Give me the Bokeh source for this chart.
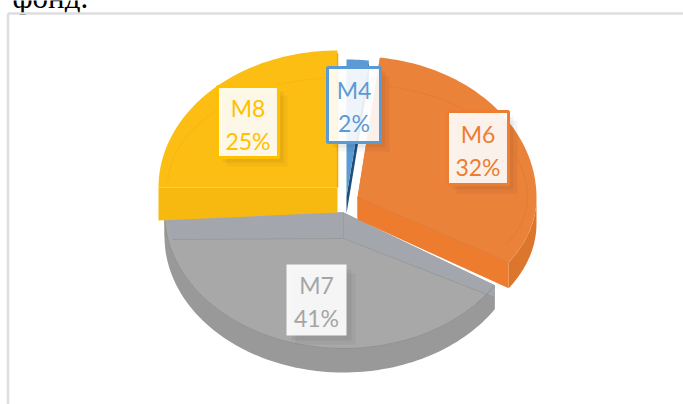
import numpy as np
from bokeh.plotting import figure
from bokeh.core.properties import value
from bokeh.embed import file_html
from bokeh.resources import INLINE

# ---- data
names = ["M4", "M6", "M7", "M8"]
shares = [2, 32, 41, 25]
label_texts = ["M4\n2%", "M6\n32%", "M7\n41%", "M8\n25%"]

# ---- style / layout (page pixels)
face_colors = ["#5B9BD5", "#EA823A", "#A8A8A8", "#FDBE14"]
cut_colors = ["#1F4E79", "#EE7C2E", "#999999", "#F7B90F"]
wall_colors = ["#1F4E79", "#DC762D", "#999999", "#F7B90F"]
bevel_colors = ["#4A86BD", "#D9732C", "#949494", "#EDA90C"]
label_colors = ["#5B9BD5", "#ED7D31", "#A5A5A5", "#FFC000"]
centres = {"M4": (346, 196), "M6": (357, 197), "M7": (343, 212), "M8": (337, 187)}
# depth of the slice at its apex and at its rim
depths = {"M4": (17, 17), "M6": (22, 26), "M7": (28, 24), "M8": (25, 33)}
RX = 179
ry_back = {"M4": 137, "M6": 141, "M7": 137, "M8": 137}
ry_front = {"M4": 137, "M6": 121, "M7": 136, "M8": 137}
boxes = {"M4": (327, 380, 67, 142), "M6": (447, 508, 111, 184),
         "M7": (286, 346, 264, 335), "M8": (217, 278, 86, 157)}
LINE_Y = {"M4": (89, 122), "M6": (133, 166), "M7": (284, 317), "M8": (107, 140)}

p = figure(width=683, height=404, output_backend="svg", toolbar_location=None,
           x_range=(0, 683), y_range=(404, 0), min_border=0,
           outline_line_color=None, margin=(0, 0, 0, 0))
p.axis.visible = False
p.grid.visible = False


def arc(name, a0, a1, kx=1.0, ky=1.0, n=90):
    cx, cy = centres[name]
    t = np.radians(np.linspace(a0, a1, n))
    c = np.cos(t)
    ry = np.where(c > 0, ry_back[name], ry_front[name])
    return cx + kx * RX * np.sin(t), cy - ky * ry * c


# page furniture
p.text([12], [-3], text=["фонд."], text_font=value("Liberation Serif"),
       text_font_size="31px", text_color="#000000", text_baseline="alphabetic")
p.segment([7.5, 7.5], [13, 13], [683, 7.5], [13, 404], line_color="#DEDEDE", line_width=2.5)

# angular spans derived from the shares
total = sum(shares)
edges = np.cumsum([0] + shares) / total * 360
spans = {n: (edges[i], edges[i + 1]) for i, n in enumerate(names)}

for n in ["M7", "M4", "M8", "M6"]:
    i = names.index(n)
    a0, a1 = spans[n]
    cx, cy = centres[n]
    d_in, d_out = depths[n]
    x, y = arc(n, a0, a1)
    # outer wall, only where the rim faces the viewer
    lo, hi = max(a0, 90), min(a1, 270)
    if hi > lo:
        sx, sy = arc(n, lo, hi)
        p.patch(np.r_[sx, sx[::-1]], np.r_[sy, sy[::-1] + d_out],
                fill_color=wall_colors[i], line_color=None)
    # cut walls
    for ex, ey in ((x[0], y[0]), (x[-1], y[-1])):
        p.patch([cx, ex, ex, cx], [cy, ey, ey + d_out, cy + d_in],
                fill_color=cut_colors[i], line_color=None)
    # top face
    p.patch(np.r_[cx, x], np.r_[cy, y], fill_color=face_colors[i], line_color=None)
    if n in ("M6", "M8"):
        ix, iy = arc(n, a0 + 3, a1 - 3, 0.95, 0.8)
        p.line(ix, iy, line_color=bevel_colors[i], line_width=1, line_alpha=0.35)
        ex, ey = (x[0], y[0]) if n == "M6" else (x[-1], y[-1])
    if n == "M6":
        p.line([cx, x[-1]], [cy, y[-1]], line_color=bevel_colors[i], line_width=1, line_alpha=0.8)
    if n == "M8":
        p.line([cx, x[-1]], [cy, y[-1] + 3], line_color=bevel_colors[i], line_width=1.5)
    if n == "M7":
        # bevelled band along the two cut edges: x[0] is the right end, x[-1] the left
        bx = [cx, x[0], x[0], cx, x[-1] + 8, x[-1]]
        by = [cy, y[0], y[0] + 12, cy + 26, y[-1] + 27, y[-1]]
        p.patch(bx, by, fill_color="#A3A7AD", line_color=None)
        p.line(bx[2:5], by[2:5], line_color=bevel_colors[i], line_width=1, line_alpha=0.7)
        p.line([cx, cx], [cy, cy + 26], line_color=bevel_colors[i], line_width=1, line_alpha=0.5)
        p.line(x, y, line_color="#8F8F8F", line_width=1)

# data labels
for i, n in enumerate(names):
    l, r, t, b = boxes[n]
    for off, al in ((5, 0.05), (9, 0.04)):
        p.quad(left=l + off, right=r + off, top=t + off, bottom=b + off, fill_color="#000000",
               fill_alpha=al, line_color=None)
    p.quad(left=l, right=r, top=t, bottom=b, fill_color="#FFFFFF", fill_alpha=0.9,
           line_color=label_colors[i] if n != "M7" else None, line_width=3)
    a, c = label_texts[i].split("\n")
    ya, yc = LINE_Y[n]
    for s, yy in ((a, ya), (c, yc)):
        p.text([(l + r) / 2], [yy], text=[s], text_font=value("Lato"), text_font_size="23px",
               text_color=label_colors[i], text_align="center", text_baseline="middle")

open("out.html", "w").write(file_html(p, INLINE))
